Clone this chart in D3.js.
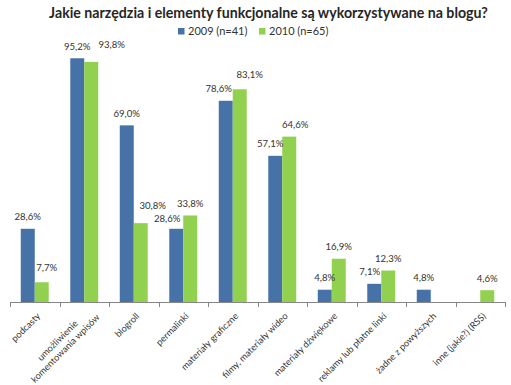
<!DOCTYPE html>
<html>
<head>
<meta charset="utf-8">
<script src="https://cdn.jsdelivr.net/npm/d3@7"></script>
<style>
    body { margin: 0; background: #fff; }
    svg { display: block; font-family: Lato, "Open Sans", sans-serif; }
</style>
</head>
<body>
<svg></svg>
<script>
// chart data
var categories = ["podcasty", "umożliwienie\nkomentowania wpisów", "blogroll", "permalinki",
    "materiały graficzne", "filmy, materiały wideo", "materiały dźwiękowe",
    "reklamy lub płatne linki", "żadne z powyższych", "inne (jakie?) (RSS)"]
var seriesNames = ["2009 (n=41)", "2010 (n=65)"]
var values2009 = [28.6, 95.2, 69.0, 28.6, 78.6, 57.1, 4.8, 7.1, 4.8, null]
var values2010 = [7.7, 93.8, 30.8, 33.8, 83.1, 64.6, 16.9, 12.3, null, 4.6]

var colors = ["#4672a8", "#92d050"]

// hand-moved data labels (dx, dy) like in the original sheet
var labelNudge = [
    [[0, 0], [0, 0], [0, 0], [-9, 2], [-7, 0], [-5, 0], [0, 0], [-4.5, 0], [0, 0], [0, 0]],
    [[5, -3], [20.5, -5], [12, -6], [0, 0], [10, -3], [6, 0], [0, 0], [0, 0], [0, 0], [0, 0]]
]

var width = 511,
    height = 385

var svg, xScale, xInner, yScale

window.onload = () => {
    var series = [values2009, values2010]

    svg = d3.select("svg")
        .attr("width", width)
        .attr("height", height)

    xScale = d3.scaleBand()
        .domain(categories)
        .range([10, 505])
        .padding(0)

    xInner = d3.scaleBand()
        .domain([0, 1])
        .range([0, xScale.bandwidth()])
        .paddingOuter(0.77)
        .paddingInner(0)

    yScale = d3.scaleLinear()
        .domain([0, 100])
        .range([302, 46])

    // title
    svg.append("text")
        .attr("x", 268.5)
        .attr("y", 18)
        .attr("text-anchor", "middle")
        .attr("font-size", 14.2)
        .attr("font-weight", "bold")
        .attr("fill", "#262626")
        .text("Jakie narzędzia i elementy funkcjonalne są wykorzystywane na blogu?")

    // legend
    var legendX = [178, 259]
    var legend = svg.append("g")
    seriesNames.forEach((name, i) => {
        legend.append("rect")
            .attr("x", legendX[i])
            .attr("y", 28)
            .attr("width", 6.5)
            .attr("height", 6.5)
            .attr("fill", colors[i])
        legend.append("text")
            .attr("x", legendX[i] + 10)
            .attr("y", 35)
            .attr("font-size", 11)
            .attr("fill", "#333")
            .text(name)
    })

    // bars
    var groups = svg.append("g")
        .selectAll("g")
        .data(categories)
        .join("g")
        .attr("transform", d => "translate(" + xScale(d) + ",0)")

    groups.selectAll("rect")
        .data((d, i) => series.map((s, k) => ({ k: k, i: i, v: s[i] })).filter(d => d.v !== null))
        .join("rect")
        .attr("x", d => xInner(d.k))
        .attr("width", xInner.bandwidth())
        .attr("y", d => yScale(d.v))
        .attr("height", d => yScale(0) - yScale(d.v))
        .attr("fill", d => colors[d.k])

    // value labels
    groups.selectAll("text")
        .data((d, i) => series.map((s, k) => ({ k: k, i: i, v: s[i] })).filter(d => d.v !== null))
        .join("text")
        .attr("x", d => xInner(d.k) + xInner.bandwidth() / 2 + labelNudge[d.k][d.i][0])
        .attr("y", d => yScale(d.v) - 12 + labelNudge[d.k][d.i][1])
        .attr("dy", "0.35em")
        .attr("text-anchor", "middle")
        .attr("font-size", 9.6)
        .attr("fill", "#333")
        .text(d => d3.format(".1f")(d.v).replace(".", ",") + "%")

    // axis line and category ticks
    var axis = svg.append("g")
    axis.append("line")
        .attr("x1", xScale.range()[0])
        .attr("x2", xScale.range()[1])
        .attr("y1", yScale(0) + 0.5)
        .attr("y2", yScale(0) + 0.5)
        .attr("stroke", "#868686")
    axis.selectAll("line.tick")
        .data(categories.map(c => xScale(c)).concat([xScale.range()[1]]))
        .join("line")
        .attr("class", "tick")
        .attr("x1", d => Math.round(d) + 0.5)
        .attr("x2", d => Math.round(d) + 0.5)
        .attr("y1", yScale(0))
        .attr("y2", yScale(0) + 5)
        .attr("stroke", "#868686")

    // rotated category labels, lines centred inside the block
    var lh = 11
    axis.selectAll("g.cat")
        .data(categories)
        .join("g")
        .attr("class", "cat")
        .each(function (d) {
            var lines = d.split("\n")
            var n = lines.length - 1
            var cx = xScale(d) + xScale.bandwidth() / 2
            var g = d3.select(this)
                .attr("transform", "translate(" + (cx + 0.5 + 2 * n) + "," + (311 - 6.5 * n) + ") rotate(-45)")
            var t = g.append("text")
                .attr("font-size", 9.2)
                .attr("fill", "#333")
                .attr("text-anchor", "middle")
            lines.forEach((line, j) => {
                t.append("tspan")
                    .attr("y", j * lh + 8)
                    .text(line)
            })
            var maxW = d3.max(t.selectAll("tspan").nodes(), n => n.getComputedTextLength())
            t.selectAll("tspan").attr("x", -maxW / 2)
        })
}
</script>
</body>
</html>
